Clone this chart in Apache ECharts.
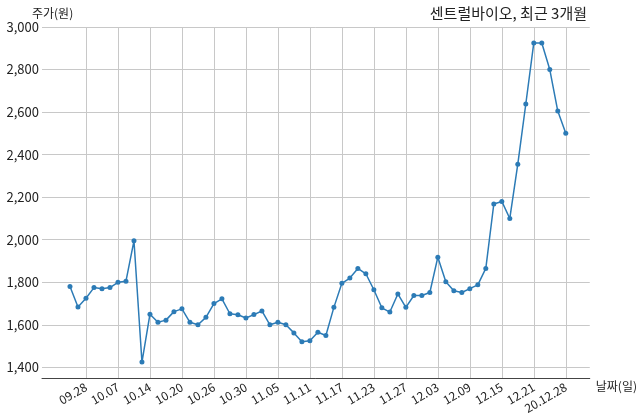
<!DOCTYPE html>
<html><head><meta charset="utf-8">
<script src="https://cdn.jsdelivr.net/npm/echarts@6/dist/echarts.min.js"></script>
<style>html,body{margin:0;padding:0;background:#fff}#c{width:640px;height:419px}</style>
</head><body><div id="c"></div>
<script>
const dates = ['09.24','09.25','09.28','09.29','10.05','10.06','10.07','10.08','10.12','10.13','10.14','10.15','10.16','10.19','10.20','10.21','10.22','10.23','10.26','10.27','10.28','10.29','10.30','11.02','11.03','11.04','11.05','11.06','11.09','11.10','11.11','11.12','11.13','11.16','11.17','11.18','11.19','11.20','11.23','11.24','11.25','11.26','11.27','11.30','12.01','12.02','12.03','12.04','12.07','12.08','12.09','12.10','12.11','12.14','12.15','12.16','12.17','12.18','12.21','12.22','12.23','12.24','20.12.28'];
const prices = [1780,1684,1725,1775,1770,1775,1800,1805,1995,1425,1650,1612,1622,1662,1675,1612,1600,1635,1700,1722,1652,1647,1632,1648,1665,1600,1612,1600,1562,1520,1525,1565,1550,1682,1795,1820,1865,1840,1765,1680,1660,1745,1682,1738,1738,1752,1918,1802,1760,1752,1770,1788,1865,2168,2180,2100,2355,2638,2925,2925,2800,2605,2500];
const tickIdx = [2,6,10,14,18,22,26,30,34,38,42,46,50,54,58,62];
const yTicks = [1400,1600,1800,2000,2200,2400,2600,2800,3000];
const font = '"Noto Sans CJK KR","Noto Sans",sans-serif';
const chart = echarts.init(document.getElementById('c'));
chart.setOption({
  animation:false,
  textStyle:{fontFamily:font},
  title:{text:'센트럴바이오, 최근 3개월',right:48,top:1,textStyle:{fontSize:15,fontWeight:'normal',color:'#222',fontFamily:font}},
  grid:{left:42,right:50,top:27,bottom:41,containLabel:false},
  xAxis:{type:'value',min:-3.5,max:65,
    name:'날짜(일)',nameLocation:'end',nameGap:6,nameTextStyle:{fontSize:12,color:'#222',verticalAlign:'top',padding:[2,0,0,0]},
    axisLine:{show:true,lineStyle:{color:'#444'}},
    axisTick:{show:false,customValues:tickIdx},
    axisLabel:{customValues:tickIdx,rotate:30,fontSize:12,color:'#222',margin:8,formatter:v=>dates[v]},
    splitLine:{show:true,lineStyle:{color:'#c8c8c8'}}},
  yAxis:{type:'value',min:1350,max:3000,
    name:'주가(원)',nameLocation:'end',nameGap:8,nameTextStyle:{fontSize:12,color:'#222',align:'left',padding:[0,0,0,-38]},
    axisLine:{show:false},axisTick:{show:false,customValues:yTicks},
    axisLabel:{customValues:yTicks,fontSize:13,color:'#222',margin:3,formatter:v=>v.toLocaleString('en-US')},
    splitLine:{show:true,lineStyle:{color:'#c8c8c8'}}},
  series:[{type:'line',data:prices.map((p,i)=>[i,p]),symbol:'circle',symbolSize:5,
    itemStyle:{color:'#2c7bb6'},lineStyle:{color:'#2c7bb6',width:1.5}}]
});
</script></body></html>
